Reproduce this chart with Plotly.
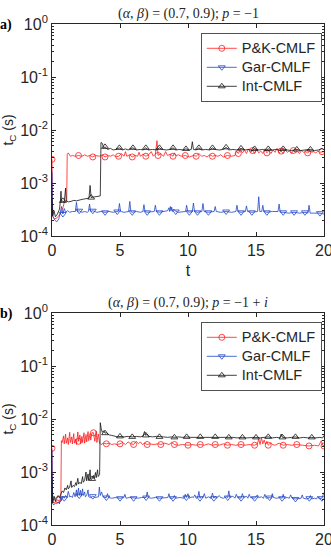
import plotly.graph_objects as go

# ---------------- data: panel (a)  p = -1 ----------------
t_red_a = [0, 0.05, 0.2, 0.35, 0.5, 0.65, 0.8, 0.9, 1.0, 1.08,
           1.12, 1.2, 1.35, 1.5, 1.7, 1.95, 2.2, 2.4, 2.6, 2.8,
           3.0, 3.2, 3.5, 3.7, 3.9, 4.1, 4.3, 4.5, 4.7, 4.9,
           5.1, 5.3, 5.4, 5.5, 5.7, 5.9, 6.1, 6.3, 6.4, 6.5,
           6.7, 6.9, 7.1, 7.3, 7.45, 7.6, 7.72, 7.8, 8.0, 8.2,
           8.35, 8.5, 8.7, 8.9, 9.0, 9.1, 9.3, 9.5, 9.8, 10.1,
           10.4, 10.6, 10.8, 11.0, 11.2, 11.4, 11.6, 11.8, 12.0, 12.2,
           12.4, 12.6, 12.9, 13.2, 13.45, 13.55, 13.7, 13.85, 14.0, 14.15,
           14.3, 14.45, 14.6, 14.75, 14.9, 15.05, 15.2, 15.35, 15.5, 15.65,
           15.8, 15.95, 16.1, 16.25, 16.4, 16.55, 16.7, 16.85, 17.0, 17.15,
           17.3, 17.45, 17.6, 17.75, 17.9, 18.05, 18.2, 18.35, 18.5, 18.65,
           18.8, 18.95, 19.1, 19.25, 19.4, 19.55, 19.7, 19.85, 20.0]
y_red_a = [2.8e-3, 2.3e-4, 2.1e-4, 2.2e-4, 2.4e-4, 2.7e-4, 3.4e-4, 4.3e-4, 4.6e-4, 4.5e-4,
           3.5e-3, 3.7e-3, 3.2e-3, 3.3e-3, 3.2e-3, 3.3e-3, 3.2e-3, 3.4e-3, 3.2e-3, 3.3e-3,
           3.1e-3, 3.3e-3, 3.2e-3, 3.4e-3, 3.1e-3, 3.3e-3, 3.2e-3, 3.4e-3, 3.1e-3, 3.2e-3,
           3.6e-3, 3.2e-3, 3.9e-3, 3.2e-3, 3.4e-3, 3.1e-3, 3.3e-3, 3.2e-3, 3.8e-3, 3.2e-3,
           3.5e-3, 3.2e-3, 3.4e-3, 3.9e-3, 3.2e-3, 3.5e-3, 6.3e-3, 3.3e-3, 3.6e-3, 3.2e-3,
           3.9e-3, 3.3e-3, 3.5e-3, 3.2e-3, 3.7e-3, 3.3e-3, 3.4e-3, 3.2e-3, 3.3e-3, 3.1e-3,
           3.3e-3, 3.2e-3, 3.6e-3, 3.2e-3, 3.3e-3, 3.1e-3, 3.4e-3, 3.2e-3, 3.3e-3, 3.2e-3,
           3.4e-3, 3.1e-3, 3.3e-3, 3.2e-3, 3.3e-3, 4.0e-3, 3.6e-3, 4.3e-3, 3.7e-3, 4.2e-3,
           3.6e-3, 4.4e-3, 3.8e-3, 4.1e-3, 3.6e-3, 4.3e-3, 3.7e-3, 4.0e-3, 3.6e-3, 4.4e-3,
           3.7e-3, 4.1e-3, 3.6e-3, 4.2e-3, 3.8e-3, 4.5e-3, 3.7e-3, 4.0e-3, 3.6e-3, 4.2e-3,
           3.8e-3, 4.0e-3, 3.6e-3, 4.1e-3, 3.8e-3, 3.9e-3, 3.6e-3, 4.1e-3, 3.8e-3, 3.9e-3,
           3.7e-3, 4.0e-3, 3.8e-3, 3.9e-3, 3.7e-3, 4.0e-3, 3.8e-3, 3.9e-3, 3.9e-3]
mk_red_a = [0, 1.95, 3.0, 3.9, 4.9, 5.9, 6.9, 7.8, 8.9, 9.8, 10.6, 11.8,
            12.9, 13.7, 14.75, 15.8, 16.85, 17.75, 18.8, 19.85]

t_blu_a = [0, 0.05, 0.2, 0.35, 0.5, 0.6, 0.7, 0.8, 0.9, 1.0,
           1.15, 1.3, 1.5, 1.72, 1.8, 1.88, 2.0, 2.2, 2.4, 2.6,
           2.68, 2.76, 2.84, 3.0, 3.3, 3.6, 3.9, 4.2, 4.5, 4.8,
           4.88, 4.96, 5.04, 5.3, 5.5, 5.64, 5.72, 5.8, 5.9, 6.2,
           6.5, 6.68, 6.76, 6.84, 7.0, 7.3, 7.52, 7.6, 7.68, 7.9,
           8.2, 8.5, 8.6, 8.65, 8.7, 8.75, 8.8, 8.85, 8.95, 9.1,
           9.3, 9.6, 9.82, 9.9, 9.98, 10.1, 10.32, 10.4, 10.48, 10.7,
           11.02, 11.1, 11.18, 11.5, 11.92, 12.0, 12.08, 12.4, 12.8, 13.2,
           13.52, 13.6, 13.68, 13.9, 14.22, 14.3, 14.38, 14.7, 15.12, 15.2,
           15.28, 15.42, 15.5, 15.58, 15.8, 16.2, 16.62, 16.7, 16.78, 17.0,
           17.4, 17.8, 18.2, 18.6, 18.82, 18.9, 18.98, 19.3, 19.7, 20.0]
y_blu_a = [1.6e-3, 2.4e-4, 2.0e-4, 1.85e-4, 2.1e-4, 2.7e-4, 3.6e-4, 2.6e-4, 3.3e-4, 2.8e-4,
           3.0e-4, 2.8e-4, 2.9e-4, 2.9e-4, 4.3e-4, 2.9e-4, 3.0e-4, 2.8e-4, 2.9e-4, 2.8e-4,
           2.9e-4, 4.0e-4, 2.9e-4, 3.0e-4, 2.8e-4, 2.9e-4, 2.8e-4, 2.9e-4, 2.8e-4, 2.9e-4,
           2.9e-4, 4.1e-4, 2.9e-4, 2.8e-4, 2.9e-4, 2.9e-4, 4.5e-4, 2.9e-4, 2.8e-4, 2.9e-4,
           2.8e-4, 2.9e-4, 3.9e-4, 2.9e-4, 2.8e-4, 2.9e-4, 2.9e-4, 3.8e-4, 2.9e-4, 2.8e-4,
           2.9e-4, 3.0e-4, 3.4e-4, 2.9e-4, 3.6e-4, 3.0e-4, 3.5e-4, 2.9e-4, 3.2e-4, 2.9e-4,
           2.8e-4, 2.9e-4, 2.9e-4, 3.8e-4, 2.9e-4, 2.8e-4, 2.9e-4, 4.2e-4, 2.9e-4, 2.8e-4,
           2.9e-4, 4.1e-4, 2.9e-4, 2.8e-4, 2.9e-4, 3.6e-4, 2.9e-4, 2.8e-4, 2.9e-4, 2.8e-4,
           2.9e-4, 3.8e-4, 2.9e-4, 2.8e-4, 2.9e-4, 3.7e-4, 2.9e-4, 2.8e-4, 2.9e-4, 5.5e-4,
           2.9e-4, 2.9e-4, 3.8e-4, 2.9e-4, 2.8e-4, 2.9e-4, 2.9e-4, 4.0e-4, 2.8e-4, 2.8e-4,
           2.7e-4, 2.8e-4, 2.7e-4, 2.8e-4, 2.7e-4, 3.8e-4, 2.7e-4, 2.7e-4, 2.7e-4, 2.6e-4]
mk_blu_a = [0.8, 2.0, 3.0, 3.9, 4.8, 5.9, 7.0, 7.9, 9.1, 10.1, 10.7, 11.5,
            12.8, 13.9, 14.7, 15.8, 17.0, 17.8, 18.6, 19.7]

t_blk_a = [0, 0.05, 0.15, 0.25, 0.4, 0.55, 0.62, 0.66, 0.7, 0.8,
           0.9, 1.0, 1.05, 1.2, 1.4, 1.6, 1.8, 2.0, 2.2, 2.4,
           2.6, 2.72, 2.8, 2.88, 3.0, 3.2, 3.4, 3.55, 3.6, 3.7,
           3.8, 3.9, 4.1, 4.3, 4.5, 4.7, 4.95, 5.2, 5.4, 5.6,
           5.8, 5.95, 6.2, 6.5, 6.7, 6.9, 7.1, 7.4, 7.7, 7.9,
           8.1, 8.4, 8.7, 8.9, 9.1, 9.4, 9.6, 9.85, 10.1, 10.24,
           10.32, 10.4, 10.6, 10.8, 11.0, 11.3, 11.6, 11.8, 12.0, 12.3,
           12.6, 12.8, 13.0, 13.3, 13.6, 13.9, 14.2, 14.5, 14.7, 14.9,
           15.2, 15.5, 15.7, 15.9, 16.2, 16.5, 16.8, 17.0, 17.3, 17.6,
           18.0, 18.3, 18.6, 19.0, 19.3, 19.6, 19.85, 20.0]
y_blk_a = [5.0e-4, 2.4e-4, 3.0e-4, 2.3e-4, 2.6e-4, 3.2e-4, 4.6e-4, 7.0e-4, 4.4e-4, 4.6e-4,
           4.3e-4, 8.0e-4, 4.6e-4, 4.4e-4, 4.5e-4, 4.7e-4, 4.6e-4, 4.8e-4, 4.9e-4, 5.0e-4,
           5.1e-4, 5.2e-4, 9.0e-4, 5.3e-4, 5.4e-4, 5.5e-4, 5.6e-4, 5.7e-4, 5.8e-3, 5.6e-3,
           4.6e-3, 4.8e-3, 4.3e-3, 4.5e-3, 4.2e-3, 4.3e-3, 4.6e-3, 4.2e-3, 4.4e-3, 4.2e-3,
           4.5e-3, 4.6e-3, 4.2e-3, 4.3e-3, 4.2e-3, 4.6e-3, 4.2e-3, 4.3e-3, 4.2e-3, 4.6e-3,
           4.3e-3, 4.2e-3, 4.3e-3, 4.6e-3, 4.2e-3, 4.3e-3, 4.2e-3, 4.4e-3, 4.2e-3, 4.3e-3,
           6.0e-3, 4.3e-3, 4.2e-3, 4.6e-3, 4.2e-3, 4.3e-3, 4.2e-3, 4.6e-3, 4.3e-3, 4.2e-3,
           4.3e-3, 4.7e-3, 4.2e-3, 4.3e-3, 4.2e-3, 4.5e-3, 4.2e-3, 4.3e-3, 4.1e-3, 4.4e-3,
           4.2e-3, 4.3e-3, 4.1e-3, 4.4e-3, 4.2e-3, 4.3e-3, 4.1e-3, 4.4e-3, 4.2e-3, 4.1e-3,
           4.3e-3, 4.1e-3, 4.2e-3, 4.3e-3, 4.1e-3, 4.2e-3, 4.5e-3, 4.2e-3]
mk_blk_a = [0.8, 2.88, 3.9, 4.95, 5.95, 6.9, 7.9, 8.9, 9.85, 10.8, 11.8, 12.8,
            13.9, 14.9, 15.9, 17.0, 18.0, 19.0]

# ---------------- data: panel (b)  p = -1 + i ----------------
t_red_b = [0, 0.05, 0.15, 0.3, 0.45, 0.55, 0.65, 0.69, 0.75, 0.85,
           0.9, 1.0, 1.05, 1.15, 1.2, 1.3, 1.35, 1.45, 1.5, 1.6,
           1.65, 1.75, 1.8, 1.9, 1.95, 2.05, 2.1, 2.2, 2.25, 2.35,
           2.4, 2.5, 2.55, 2.65, 2.7, 2.8, 2.85, 2.95, 3.05, 3.15,
           3.25, 3.3, 3.4, 3.5, 3.6, 3.8, 4.0, 4.2, 4.4, 4.6,
           4.8, 5.0, 5.2, 5.4, 5.6, 5.8, 6.0, 6.2, 6.35, 6.5,
           6.65, 6.8, 7.0, 7.2, 7.5, 7.8, 8.0, 8.3, 8.6, 8.8,
           9.0, 9.3, 9.6, 10.0, 10.3, 10.6, 10.9, 11.2, 11.5, 11.8,
           12.0, 12.3, 12.6, 12.9, 13.2, 13.5, 13.9, 14.2, 14.5, 14.9,
           15.1, 15.2, 15.3, 15.4, 15.5, 15.6, 15.7, 15.8, 15.9, 16.1,
           16.2, 16.4, 16.7, 17.0, 17.3, 17.6, 18.0, 18.4, 18.9, 19.3,
           19.6, 19.8, 19.9, 20.0]
y_red_b = [2.8e-3, 2.7e-4, 2.6e-4, 2.8e-4, 3.0e-4, 2.7e-4, 2.9e-4, 3.9e-3, 3.6e-3, 4.8e-3,
           3.4e-3, 5.2e-3, 3.5e-3, 4.4e-3, 3.3e-3, 5.6e-3, 3.6e-3, 4.6e-3, 3.4e-3, 5.3e-3,
           3.5e-3, 4.2e-3, 3.3e-3, 5.7e-3, 3.8e-3, 5.0e-3, 3.4e-3, 4.7e-3, 3.6e-3, 5.5e-3,
           3.5e-3, 5.1e-3, 3.7e-3, 5.8e-3, 3.9e-3, 5.3e-3, 4.0e-3, 5.6e-3, 5.5e-3, 3.8e-3,
           5.9e-3, 3.6e-3, 5.2e-3, 3.5e-3, 3.3e-3, 3.5e-3, 3.4e-3, 3.5e-3, 3.3e-3, 3.4e-3,
           3.3e-3, 3.4e-3, 3.6e-3, 3.3e-3, 3.7e-3, 3.4e-3, 3.3e-3, 3.8e-3, 3.4e-3, 3.7e-3,
           3.3e-3, 3.5e-3, 3.3e-3, 3.4e-3, 3.3e-3, 3.4e-3, 3.3e-3, 3.5e-3, 3.3e-3, 3.6e-3,
           3.3e-3, 3.2e-3, 3.3e-3, 3.2e-3, 3.3e-3, 3.2e-3, 3.3e-3, 3.2e-3, 3.4e-3, 3.2e-3,
           3.3e-3, 3.2e-3, 3.4e-3, 3.2e-3, 3.3e-3, 3.2e-3, 3.3e-3, 3.2e-3, 3.3e-3, 3.2e-3,
           3.4e-3, 4.2e-3, 3.3e-3, 4.4e-3, 3.4e-3, 4.0e-3, 3.3e-3, 3.8e-3, 3.2e-3, 3.6e-3,
           3.3e-3, 3.2e-3, 3.5e-3, 3.2e-3, 3.3e-3, 3.2e-3, 3.3e-3, 3.2e-3, 3.1e-3, 3.2e-3,
           3.1e-3, 3.9e-3, 3.2e-3, 3.1e-3]
mk_red_b = [0, 0.45, 1.95, 3.05, 4.0, 5.0, 6.0, 7.0, 8.0, 9.0, 10.0, 10.9,
            12.0, 12.9, 13.9, 14.9, 15.9, 17.0, 18.0, 18.9, 20.0]

t_blu_b = [0, 0.05, 0.15, 0.25, 0.35, 0.45, 0.55, 0.62, 0.7, 0.8,
           0.9, 1.0, 1.1, 1.2, 1.3, 1.4, 1.5, 1.6, 1.7, 1.8,
           1.85, 1.95, 2.0, 2.1, 2.15, 2.25, 2.3, 2.4, 2.45, 2.55,
           2.65, 2.7, 2.85, 3.0, 3.15, 3.3, 3.42, 3.48, 3.55, 3.65,
           3.75, 3.9, 4.0, 4.08, 4.16, 4.4, 4.7, 5.0, 5.2, 5.28,
           5.36, 5.44, 5.7, 6.0, 6.3, 6.6, 6.92, 7.0, 7.08, 7.3,
           7.6, 7.9, 8.2, 8.52, 8.6, 8.68, 8.9, 9.0, 9.08, 9.4,
           9.72, 9.8, 9.88, 10.0, 10.08, 10.3, 10.4, 10.5, 10.6, 10.72,
           10.8, 10.88, 11.0, 11.1, 11.2, 11.3, 11.5, 11.7, 11.8, 11.9,
           12.0, 12.1, 12.3, 12.4, 12.6, 12.8, 12.92, 13.0, 13.08, 13.3,
           13.45, 13.55, 13.65, 13.9, 14.0, 14.1, 14.3, 14.4, 14.5, 14.6,
           14.9, 15.1, 15.2, 15.4, 15.55, 15.65, 15.75, 16.0, 16.12, 16.2,
           16.28, 16.5, 16.8, 16.92, 17.0, 17.08, 17.3, 17.45, 17.55, 17.65,
           17.9, 18.2, 18.32, 18.4, 18.48, 18.7, 18.92, 19.0, 19.08, 19.3,
           19.45, 19.55, 19.65, 19.85, 20.0]
y_blu_b = [2.6e-3, 2.5e-4, 2.4e-4, 2.6e-4, 2.5e-4, 2.7e-4, 2.5e-4, 3.4e-4, 2.9e-4, 3.5e-4,
           3.2e-4, 3.6e-4, 3.3e-4, 4.3e-4, 3.4e-4, 3.5e-4, 3.3e-4, 4.1e-4, 3.4e-4, 4.6e-4,
           3.5e-4, 5.0e-4, 3.6e-4, 4.5e-4, 3.5e-4, 4.8e-4, 3.6e-4, 4.2e-4, 3.4e-4, 3.6e-4,
           4.6e-4, 3.4e-4, 3.3e-4, 3.5e-4, 3.3e-4, 3.4e-4, 3.4e-4, 5.2e-4, 3.6e-4, 4.2e-4,
           3.4e-4, 3.3e-4, 3.3e-4, 3.9e-4, 3.3e-4, 3.2e-4, 3.3e-4, 3.2e-4, 3.3e-4, 3.3e-4,
           3.8e-4, 3.2e-4, 3.3e-4, 3.2e-4, 3.2e-4, 3.3e-4, 3.3e-4, 4.2e-4, 3.3e-4, 3.2e-4,
           3.3e-4, 3.2e-4, 3.2e-4, 3.3e-4, 3.9e-4, 3.2e-4, 3.2e-4, 3.6e-4, 3.2e-4, 3.3e-4,
           3.2e-4, 3.8e-4, 3.3e-4, 3.9e-4, 3.2e-4, 3.4e-4, 3.3e-4, 3.7e-4, 3.2e-4, 3.3e-4,
           4.3e-4, 3.2e-4, 3.4e-4, 3.3e-4, 3.9e-4, 3.2e-4, 3.4e-4, 3.2e-4, 4.0e-4, 3.2e-4,
           3.5e-4, 3.2e-4, 3.6e-4, 3.3e-4, 3.2e-4, 3.4e-4, 3.3e-4, 4.4e-4, 3.3e-4, 3.5e-4,
           3.2e-4, 3.8e-4, 3.3e-4, 3.2e-4, 3.9e-4, 3.3e-4, 3.5e-4, 3.2e-4, 3.8e-4, 3.3e-4,
           3.2e-4, 3.7e-4, 3.3e-4, 3.4e-4, 3.2e-4, 3.8e-4, 3.2e-4, 3.3e-4, 3.2e-4, 3.9e-4,
           3.3e-4, 3.2e-4, 3.3e-4, 3.2e-4, 3.8e-4, 3.2e-4, 3.3e-4, 3.2e-4, 3.7e-4, 3.2e-4,
           3.1e-4, 3.2e-4, 3.2e-4, 3.7e-4, 3.2e-4, 3.1e-4, 3.2e-4, 3.6e-4, 3.1e-4, 3.2e-4,
           3.1e-4, 3.5e-4, 3.1e-4, 3.2e-4, 4.1e-4]
mk_blu_b = [0.9, 2.0, 3.0, 4.0, 5.0, 6.0, 6.92, 7.9, 8.9, 9.88, 10.88, 11.9,
            12.92, 13.9, 14.9, 16.0, 16.92, 17.9, 18.92, 19.85]

t_blk_b = [0, 0.05, 0.15, 0.25, 0.35, 0.45, 0.55, 0.65, 0.75, 0.85,
           0.95, 1.05, 1.15, 1.2, 1.3, 1.4, 1.45, 1.55, 1.65, 1.75,
           1.8, 1.9, 1.95, 2.05, 2.15, 2.25, 2.3, 2.4, 2.5, 2.55,
           2.65, 2.7, 2.8, 2.85, 2.95, 3.05, 3.1, 3.2, 3.25, 3.35,
           3.4, 3.5, 3.55, 3.62, 3.7, 3.8, 3.9, 4.0, 4.2, 4.4,
           4.6, 4.8, 5.0, 5.3, 5.6, 5.9, 6.2, 6.5, 6.7, 6.8,
           6.9, 7.0, 7.1, 7.4, 7.7, 7.9, 8.2, 8.5, 8.8, 9.0,
           9.3, 9.6, 9.9, 10.2, 10.5, 10.9, 11.2, 11.5, 11.8, 12.0,
           12.3, 12.6, 13.0, 13.3, 13.6, 14.0, 14.3, 14.6, 15.0, 15.3,
           15.6, 15.9, 16.2, 16.5, 16.75, 16.85, 16.95, 17.3, 17.6, 17.9,
           18.2, 18.5, 18.8, 19.1, 19.4, 19.7, 19.9, 20.0]
y_blk_b = [8.0e-4, 2.6e-4, 3.5e-4, 2.8e-4, 3.2e-4, 3.6e-4, 3.3e-4, 4.0e-4, 4.4e-4, 4.1e-4,
           5.0e-4, 4.6e-4, 5.6e-4, 4.8e-4, 5.2e-4, 6.8e-4, 5.1e-4, 5.6e-4, 5.3e-4, 6.3e-4,
           5.6e-4, 7.6e-4, 5.9e-4, 6.4e-4, 6.0e-4, 8.2e-4, 6.4e-4, 7.0e-4, 1.0e-3, 6.8e-4,
           9.2e-4, 7.0e-4, 1.1e-3, 7.2e-4, 7.4e-4, 8.6e-4, 7.5e-4, 9.8e-4, 7.8e-4, 1.1e-3,
           8.2e-4, 9.0e-4, 8.5e-3, 6.5e-3, 5.6e-3, 6.0e-3, 5.4e-3, 5.5e-3, 5.0e-3, 4.9e-3,
           4.7e-3, 4.6e-3, 4.7e-3, 4.6e-3, 4.7e-3, 4.6e-3, 4.7e-3, 4.6e-3, 4.8e-3, 5.8e-3,
           4.9e-3, 5.2e-3, 4.7e-3, 4.6e-3, 4.7e-3, 4.6e-3, 4.6e-3, 4.5e-3, 4.6e-3, 4.5e-3,
           4.6e-3, 4.5e-3, 4.6e-3, 4.5e-3, 4.5e-3, 4.6e-3, 4.5e-3, 4.6e-3, 4.5e-3, 4.6e-3,
           4.5e-3, 4.6e-3, 4.5e-3, 4.5e-3, 4.4e-3, 4.5e-3, 4.4e-3, 4.5e-3, 4.5e-3, 4.4e-3,
           4.5e-3, 4.6e-3, 4.4e-3, 4.5e-3, 4.4e-3, 5.2e-3, 4.5e-3, 4.4e-3, 4.5e-3, 4.6e-3,
           4.4e-3, 4.5e-3, 4.4e-3, 4.5e-3, 4.4e-3, 4.5e-3, 4.4e-3, 4.9e-3]
mk_blk_b = [2.95, 3.9, 5.0, 5.9, 6.9, 7.9, 9.0, 9.9, 10.9, 12.0, 13.0, 14.0,
            15.0, 15.9, 16.95, 17.9, 19.1]

series_names = ["P&K-CMLF", "Gar-CMLF", "Int-CMLF"]
x_ticks = [0, 5, 10, 15, 20]
y_ticks = [1e-4, 1e-3, 1e-2, 1e-1, 1]
y_ticktext = ["10<sup>-4</sup>", "10<sup>-3</sup>", "10<sup>-2</sup>", "10<sup>-1</sup>", "10<sup>0</sup>"]
titles = ["(<i>α</i>, <i>β</i>) = (0.7, 0.9); <i>p</i> = −1",
          "(<i>α</i>, <i>β</i>) = (0.7, 0.9); <i>p</i> = −1 + <i>i</i>"]
panel_labels = ["a)", "b)"]
x_title = "t"
y_title = "t<sub>C</sub> (s)"

# ---------------- styling ----------------
W, H = 331, 557
RED, BLUE, BLACK = "#ff1a1a", "#1f45c8", "#111111"
AX = "#262626"
SANS = "Liberation Sans, Arial, sans-serif"
SERIF = "Liberation Serif, Times New Roman, serif"


def marker_idx(ts, marks):
    keys = {round(m, 2) for m in marks}
    return [i for i, t in enumerate(ts) if round(t, 2) in keys]


def series(t, y, marks, name, color, symbol, xa, ya, legend):
    return go.Scatter(
        x=t, y=y, mode="lines+markers",
        name='<span style="font-size:14.5px">' + name + "</span>",
        line=dict(color=color, width=0.8),
        marker=dict(symbol=symbol, size=6, color=color,
                    line=dict(color=color, width=0.8)),
        selectedpoints=marker_idx(t, marks),
        selected=dict(marker=dict(opacity=1)),
        unselected=dict(marker=dict(opacity=0)),
        xaxis=xa, yaxis=ya, legend=legend,
    )


fig = go.Figure()
panels = [
    ((t_red_a, y_red_a, mk_red_a), (t_blu_a, y_blu_a, mk_blu_a), (t_blk_a, y_blk_a, mk_blk_a), "x", "y", "legend"),
    ((t_red_b, y_red_b, mk_red_b), (t_blu_b, y_blu_b, mk_blu_b), (t_blk_b, y_blk_b, mk_blk_b), "x2", "y2", "legend2"),
]
for red, blu, blk, xa, ya, lg in panels:
    fig.add_trace(series(*red, series_names[0], RED, "circle-open", xa, ya, lg))
    fig.add_trace(series(*blu, series_names[1], BLUE, "triangle-down-open", xa, ya, lg))
    fig.add_trace(series(*blk, series_names[2], BLACK, "triangle-up-open", xa, ya, lg))

x_dom = [52 / W, 324 / W]
ya_dom = [1 - 236 / H, 1 - 24 / H]
yb_dom = [1 - 525 / H, 1 - 313 / H]

minor_vals = [m * 10.0 ** e for e in range(-4, 0) for m in range(2, 10)]

xcommon = dict(range=[0, 20], tickvals=x_ticks, ticks="inside", ticklen=4,
               tickcolor=AX, showline=True, linecolor=AX, linewidth=0.8,
               mirror="ticks", showgrid=False, zeroline=False, automargin=False,
               ticklabeloverflow="allow",
               tickfont=dict(family=SANS, size=16, color=AX))
ycommon = dict(type="log", range=[-4, 0], tickvals=y_ticks, ticktext=y_ticktext,
               ticks="inside", ticklen=4, tickcolor=AX, showline=True,
               linecolor=AX, linewidth=0.8, mirror="ticks", showgrid=False,
               zeroline=False, automargin=False, ticklabeloverflow="allow",
               tickfont=dict(family=SANS, size=16, color=AX),
               minor=dict(tickvals=minor_vals, ticks="inside", ticklen=2,
                          tickcolor=AX, showgrid=False),
               title=dict(text=y_title, font=dict(family=SANS, size=14, color=AX), standoff=4))

legend_common = dict(xanchor="left", yanchor="top", bgcolor="white",
                     bordercolor=AX, borderwidth=0.8, itemwidth=30,
                     font=dict(family=SANS, size=11.5, color=AX), tracegroupgap=0)

fig.update_layout(
    width=W, height=H,
    margin=dict(l=0, r=0, t=0, b=0, autoexpand=False),
    paper_bgcolor="white", plot_bgcolor="white",
    xaxis=dict(domain=x_dom, anchor="y",
               title=dict(text=x_title, font=dict(family=SANS, size=16, color=AX), standoff=6),
               **xcommon),
    yaxis=dict(domain=ya_dom, anchor="x", **ycommon),
    xaxis2=dict(domain=x_dom, anchor="y2", **xcommon),
    yaxis2=dict(domain=yb_dom, anchor="x2", **ycommon),
    legend=dict(x=201 / W, y=1 - 33 / H, **legend_common),
    legend2=dict(x=201 / W, y=1 - 322 / H, **legend_common),
    showlegend=True,
)

# x-axis title of the lower panel: sits at the same offset below its axis as in
# the upper panel, which puts it mostly past the bottom edge of the page
fig.add_annotation(x=188 / W, y=1 - 562 / H, xref="paper", yref="paper",
                   text=x_title, showarrow=False, xanchor="center", yanchor="middle",
                   font=dict(family=SANS, size=16, color=AX))

for i, (ytop, txt, lab) in enumerate([(14, titles[0], panel_labels[0]), (303, titles[1], panel_labels[1])]):
    fig.add_annotation(x=188 / W, y=1 - ytop / H, xref="paper", yref="paper",
                       text=txt, showarrow=False, xanchor="center", yanchor="middle",
                       font=dict(family=SERIF, size=14, color=AX))
    fig.add_annotation(x=-2 / W, y=1 - (ytop + 11) / H, xref="paper", yref="paper",
                       text="<b>" + lab + "</b>", showarrow=False, xanchor="left",
                       yanchor="middle", font=dict(family=SERIF, size=14, color="black"))

fig.write_html("out.html")
